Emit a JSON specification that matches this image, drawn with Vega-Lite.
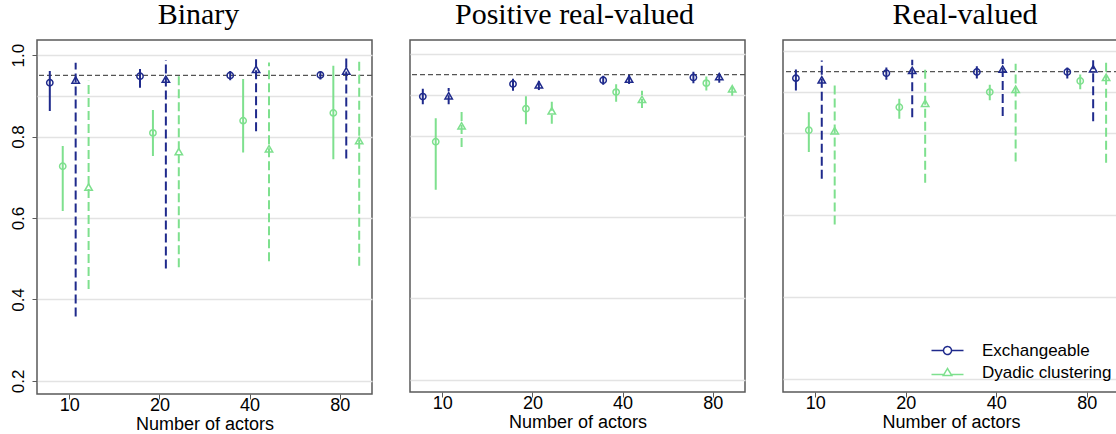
{
  "$schema": "https://vega.github.io/schema/vega-lite/v6.json",
  "padding": {"left": 8, "top": -1, "right": 0, "bottom": 0},
  "spacing": 38,
  "bounds": "flush",
  "config": {
    "view": {"stroke": "#5a5a5a", "strokeWidth": 1.5},
    "font": "Liberation Sans",
    "title": {"font": "Liberation Serif", "fontSize": 30, "fontWeight": "normal", "baseline": "alphabetic", "color": "black", "frame": "group", "offset": 10},
    "axis": {"labelFont": "Liberation Sans", "labelFontSize": 18, "labelColor": "black", "titleFont": "Liberation Sans", "titleFontSize": 18, "titleFontWeight": "normal", "titleColor": "black", "tickColor": "#5a5a5a", "tickSize": 5, "gridColor": "#e3e3e3", "gridWidth": 1.5, "domain": false}
  },
  "resolve": {"scale": {"color": "independent", "y": "independent"}, "legend": {"color": "independent"}},
  "datasets": {
    "cov": [
      {"panel": "Binary", "actors": "10", "model": "Exchangeable", "estimator": "A", "series": "Exchangeable A", "est": 0.932, "lo": 0.863, "hi": 0.961},
      {"panel": "Binary", "actors": "10", "model": "Dyadic clustering", "estimator": "A", "series": "Dyadic clustering A", "est": 0.727, "lo": 0.617, "hi": 0.777},
      {"panel": "Binary", "actors": "10", "model": "Exchangeable", "estimator": "B", "series": "Exchangeable B", "est": 0.939, "lo": 0.358, "hi": 0.981},
      {"panel": "Binary", "actors": "10", "model": "Dyadic clustering", "estimator": "B", "series": "Dyadic clustering B", "est": 0.676, "lo": 0.426, "hi": 0.937},
      {"panel": "Binary", "actors": "20", "model": "Exchangeable", "estimator": "A", "series": "Exchangeable A", "est": 0.948, "lo": 0.920, "hi": 0.966},
      {"panel": "Binary", "actors": "20", "model": "Dyadic clustering", "estimator": "A", "series": "Dyadic clustering A", "est": 0.809, "lo": 0.752, "hi": 0.865},
      {"panel": "Binary", "actors": "20", "model": "Exchangeable", "estimator": "B", "series": "Exchangeable B", "est": 0.941, "lo": 0.476, "hi": 0.988},
      {"panel": "Binary", "actors": "20", "model": "Dyadic clustering", "estimator": "B", "series": "Dyadic clustering B", "est": 0.763, "lo": 0.479, "hi": 0.953},
      {"panel": "Binary", "actors": "40", "model": "Exchangeable", "estimator": "A", "series": "Exchangeable A", "est": 0.950, "lo": 0.938, "hi": 0.961},
      {"panel": "Binary", "actors": "40", "model": "Dyadic clustering", "estimator": "A", "series": "Dyadic clustering A", "est": 0.839, "lo": 0.761, "hi": 0.941},
      {"panel": "Binary", "actors": "40", "model": "Exchangeable", "estimator": "B", "series": "Exchangeable B", "est": 0.965, "lo": 0.813, "hi": 0.990},
      {"panel": "Binary", "actors": "40", "model": "Dyadic clustering", "estimator": "B", "series": "Dyadic clustering B", "est": 0.770, "lo": 0.494, "hi": 0.982},
      {"panel": "Binary", "actors": "80", "model": "Exchangeable", "estimator": "A", "series": "Exchangeable A", "est": 0.951, "lo": 0.940, "hi": 0.959},
      {"panel": "Binary", "actors": "80", "model": "Dyadic clustering", "estimator": "A", "series": "Dyadic clustering A", "est": 0.858, "lo": 0.744, "hi": 0.974},
      {"panel": "Binary", "actors": "80", "model": "Exchangeable", "estimator": "B", "series": "Exchangeable B", "est": 0.961, "lo": 0.746, "hi": 0.993},
      {"panel": "Binary", "actors": "80", "model": "Dyadic clustering", "estimator": "B", "series": "Dyadic clustering B", "est": 0.790, "lo": 0.483, "hi": 0.990},

      {"panel": "Positive real-valued", "actors": "10", "model": "Exchangeable", "estimator": "A", "series": "Exchangeable A", "est": 0.896, "lo": 0.877, "hi": 0.915},
      {"panel": "Positive real-valued", "actors": "10", "model": "Dyadic clustering", "estimator": "A", "series": "Dyadic clustering A", "est": 0.785, "lo": 0.667, "hi": 0.843},
      {"panel": "Positive real-valued", "actors": "10", "model": "Exchangeable", "estimator": "B", "series": "Exchangeable B", "est": 0.898, "lo": 0.877, "hi": 0.917},
      {"panel": "Positive real-valued", "actors": "10", "model": "Dyadic clustering", "estimator": "B", "series": "Dyadic clustering B", "est": 0.824, "lo": 0.772, "hi": 0.868},
      {"panel": "Positive real-valued", "actors": "20", "model": "Exchangeable", "estimator": "A", "series": "Exchangeable A", "est": 0.927, "lo": 0.910, "hi": 0.940},
      {"panel": "Positive real-valued", "actors": "20", "model": "Dyadic clustering", "estimator": "A", "series": "Dyadic clustering A", "est": 0.866, "lo": 0.828, "hi": 0.897},
      {"panel": "Positive real-valued", "actors": "20", "model": "Exchangeable", "estimator": "B", "series": "Exchangeable B", "est": 0.925, "lo": 0.912, "hi": 0.939},
      {"panel": "Positive real-valued", "actors": "20", "model": "Dyadic clustering", "estimator": "B", "series": "Dyadic clustering B", "est": 0.861, "lo": 0.829, "hi": 0.888},
      {"panel": "Positive real-valued", "actors": "40", "model": "Exchangeable", "estimator": "A", "series": "Exchangeable A", "est": 0.936, "lo": 0.925, "hi": 0.947},
      {"panel": "Positive real-valued", "actors": "40", "model": "Dyadic clustering", "estimator": "A", "series": "Dyadic clustering A", "est": 0.907, "lo": 0.883, "hi": 0.926},
      {"panel": "Positive real-valued", "actors": "40", "model": "Exchangeable", "estimator": "B", "series": "Exchangeable B", "est": 0.939, "lo": 0.927, "hi": 0.952},
      {"panel": "Positive real-valued", "actors": "40", "model": "Dyadic clustering", "estimator": "B", "series": "Dyadic clustering B", "est": 0.889, "lo": 0.868, "hi": 0.910},
      {"panel": "Positive real-valued", "actors": "80", "model": "Exchangeable", "estimator": "A", "series": "Exchangeable A", "est": 0.943, "lo": 0.929, "hi": 0.957},
      {"panel": "Positive real-valued", "actors": "80", "model": "Dyadic clustering", "estimator": "A", "series": "Dyadic clustering A", "est": 0.929, "lo": 0.911, "hi": 0.945},
      {"panel": "Positive real-valued", "actors": "80", "model": "Exchangeable", "estimator": "B", "series": "Exchangeable B", "est": 0.945, "lo": 0.930, "hi": 0.958},
      {"panel": "Positive real-valued", "actors": "80", "model": "Dyadic clustering", "estimator": "B", "series": "Dyadic clustering B", "est": 0.915, "lo": 0.898, "hi": 0.926},

      {"panel": "Real-valued", "actors": "10", "model": "Exchangeable", "estimator": "A", "series": "Exchangeable A", "est": 0.934, "lo": 0.904, "hi": 0.955},
      {"panel": "Real-valued", "actors": "10", "model": "Dyadic clustering", "estimator": "A", "series": "Dyadic clustering A", "est": 0.807, "lo": 0.754, "hi": 0.851},
      {"panel": "Real-valued", "actors": "10", "model": "Exchangeable", "estimator": "B", "series": "Exchangeable B", "est": 0.930, "lo": 0.689, "hi": 0.977},
      {"panel": "Real-valued", "actors": "10", "model": "Dyadic clustering", "estimator": "B", "series": "Dyadic clustering B", "est": 0.806, "lo": 0.577, "hi": 0.919},
      {"panel": "Real-valued", "actors": "20", "model": "Exchangeable", "estimator": "A", "series": "Exchangeable A", "est": 0.946, "lo": 0.930, "hi": 0.960},
      {"panel": "Real-valued", "actors": "20", "model": "Dyadic clustering", "estimator": "A", "series": "Dyadic clustering A", "est": 0.863, "lo": 0.835, "hi": 0.884},
      {"panel": "Real-valued", "actors": "20", "model": "Exchangeable", "estimator": "B", "series": "Exchangeable B", "est": 0.953, "lo": 0.839, "hi": 0.979},
      {"panel": "Real-valued", "actors": "20", "model": "Dyadic clustering", "estimator": "B", "series": "Dyadic clustering B", "est": 0.873, "lo": 0.679, "hi": 0.955},
      {"panel": "Real-valued", "actors": "40", "model": "Exchangeable", "estimator": "A", "series": "Exchangeable A", "est": 0.949, "lo": 0.933, "hi": 0.963},
      {"panel": "Real-valued", "actors": "40", "model": "Dyadic clustering", "estimator": "A", "series": "Dyadic clustering A", "est": 0.900, "lo": 0.880, "hi": 0.918},
      {"panel": "Real-valued", "actors": "40", "model": "Exchangeable", "estimator": "B", "series": "Exchangeable B", "est": 0.956, "lo": 0.842, "hi": 0.981},
      {"panel": "Real-valued", "actors": "40", "model": "Dyadic clustering", "estimator": "B", "series": "Dyadic clustering B", "est": 0.907, "lo": 0.731, "hi": 0.969},
      {"panel": "Real-valued", "actors": "80", "model": "Exchangeable", "estimator": "A", "series": "Exchangeable A", "est": 0.949, "lo": 0.933, "hi": 0.960},
      {"panel": "Real-valued", "actors": "80", "model": "Dyadic clustering", "estimator": "A", "series": "Dyadic clustering A", "est": 0.927, "lo": 0.907, "hi": 0.943},
      {"panel": "Real-valued", "actors": "80", "model": "Exchangeable", "estimator": "B", "series": "Exchangeable B", "est": 0.957, "lo": 0.829, "hi": 0.985},
      {"panel": "Real-valued", "actors": "80", "model": "Dyadic clustering", "estimator": "B", "series": "Dyadic clustering B", "est": 0.936, "lo": 0.728, "hi": 0.977}
    ]
  },
  "hconcat": [
    {
      "width": 335, "height": 354,
      "title": {"text": "Binary", "dx": -6},
      "layer": [
        {
          "data": {"values": [{"level": 0.95}]},
          "mark": {"type": "rule", "color": "#555555", "strokeDash": [5, 3], "strokeWidth": 1.2},
          "encoding": {"y": {"field": "level", "type": "quantitative", "scale": {"domain": [0.168, 1.037], "nice": false, "zero": false},
            "axis": {"values": [0.2, 0.4, 0.6, 0.8, 0.9, 1.0], "labelExpr": "datum.value == 0.9 ? '' : format(datum.value, '.1f')", "tickOpacity": {"condition": {"test": "datum.value == 0.9", "value": 0}, "value": 1}, "title": null, "labelAngle": 270, "labelAlign": "center", "labelBaseline": "alphabetic", "labelPadding": 9, "labelFontSize": 17}}}
        },
        {
          "data": {"name": "cov"},
          "transform": [{"filter": "datum.panel == 'Binary'"}],
          "mark": {"type": "rule", "strokeWidth": 2},
          "encoding": {
            "x": {"field": "actors", "type": "ordinal", "sort": ["10", "20", "40", "80"], "scale": {"type": "point", "padding": 0.357}, "axis": {"labelAngle": 0, "labelPadding": -3, "title": "Number of actors", "titlePadding": 1}},
            "xOffset": {"field": "series", "type": "nominal", "scale": {"type": "point", "padding": 0, "domain": ["Exchangeable A", "Dyadic clustering A", "Exchangeable B", "Dyadic clustering B"], "range": [-19.4, 19.4]}},
            "y": {"field": "lo", "type": "quantitative"},
            "y2": {"field": "hi"},
            "color": {"field": "model", "type": "nominal", "scale": {"domain": ["Exchangeable", "Dyadic clustering"], "range": ["#1f2a8c", "#7ee08e"]}, "legend": null},
            "strokeDash": {"field": "estimator", "type": "nominal", "scale": {"domain": ["A", "B"], "range": [[1, 0], [9, 4]]}, "legend": null}
          }
        },
        {
          "data": {"name": "cov"},
          "transform": [{"filter": "datum.panel == 'Binary'"}],
          "mark": {"type": "point", "filled": false, "strokeWidth": 1.5, "opacity": 1},
          "encoding": {
            "x": {"field": "actors", "type": "ordinal", "sort": ["10", "20", "40", "80"], "scale": {"type": "point", "padding": 0.357}},
            "xOffset": {"field": "series", "type": "nominal", "scale": {"type": "point", "padding": 0, "domain": ["Exchangeable A", "Dyadic clustering A", "Exchangeable B", "Dyadic clustering B"], "range": [-19.4, 19.4]}},
            "y": {"field": "est", "type": "quantitative"},
            "color": {"field": "model", "type": "nominal", "legend": null},
            "shape": {"field": "estimator", "type": "nominal", "scale": {"domain": ["A", "B"], "range": ["circle", "triangle-up"]}, "legend": null},
            "size": {"field": "estimator", "type": "nominal", "scale": {"domain": ["A", "B"], "range": [40, 55]}, "legend": null}
          }
        }
      ]
    },
    {
      "width": 335, "height": 352,
      "title": {"text": "Positive real-valued", "dx": -3},
      "layer": [
        {
          "data": {"values": [{"level": 0.95}]},
          "mark": {"type": "rule", "color": "#555555", "strokeDash": [5, 3], "strokeWidth": 1.2},
          "encoding": {"y": {"field": "level", "type": "quantitative", "scale": {"domain": [0.170, 1.035], "nice": false, "zero": false},
            "axis": {"values": [0.2, 0.4, 0.6, 0.8, 0.9, 1.0], "labels": false, "ticks": false, "tickSize": 0, "labelPadding": 0, "title": null}}}
        },
        {
          "data": {"name": "cov"},
          "transform": [{"filter": "datum.panel == 'Positive real-valued'"}],
          "mark": {"type": "rule", "strokeWidth": 2},
          "encoding": {
            "x": {"field": "actors", "type": "ordinal", "sort": ["10", "20", "40", "80"], "scale": {"type": "point", "padding": 0.357}, "axis": {"labelAngle": 0, "labelPadding": -3, "title": "Number of actors", "titlePadding": 1}},
            "xOffset": {"field": "series", "type": "nominal", "scale": {"type": "point", "padding": 0, "domain": ["Exchangeable A", "Dyadic clustering A", "Exchangeable B", "Dyadic clustering B"], "range": [-19.4, 19.4]}},
            "y": {"field": "lo", "type": "quantitative"},
            "y2": {"field": "hi"},
            "color": {"field": "model", "type": "nominal", "scale": {"domain": ["Exchangeable", "Dyadic clustering"], "range": ["#1f2a8c", "#7ee08e"]}, "legend": null},
            "strokeDash": {"field": "estimator", "type": "nominal", "scale": {"domain": ["A", "B"], "range": [[1, 0], [9, 4]]}, "legend": null}
          }
        },
        {
          "data": {"name": "cov"},
          "transform": [{"filter": "datum.panel == 'Positive real-valued'"}],
          "mark": {"type": "point", "filled": false, "strokeWidth": 1.5, "opacity": 1},
          "encoding": {
            "x": {"field": "actors", "type": "ordinal", "sort": ["10", "20", "40", "80"], "scale": {"type": "point", "padding": 0.357}},
            "xOffset": {"field": "series", "type": "nominal", "scale": {"type": "point", "padding": 0, "domain": ["Exchangeable A", "Dyadic clustering A", "Exchangeable B", "Dyadic clustering B"], "range": [-19.4, 19.4]}},
            "y": {"field": "est", "type": "quantitative"},
            "color": {"field": "model", "type": "nominal", "legend": null},
            "shape": {"field": "estimator", "type": "nominal", "scale": {"domain": ["A", "B"], "range": ["circle", "triangle-up"]}, "legend": null},
            "size": {"field": "estimator", "type": "nominal", "scale": {"domain": ["A", "B"], "range": [40, 55]}, "legend": null}
          }
        }
      ]
    },
    {
      "width": 336, "height": 352,
      "title": {"text": "Real-valued", "dx": 14},
      "layer": [
        {
          "data": {"values": [{"level": 0.95}]},
          "mark": {"type": "rule", "color": "#555555", "strokeDash": [5, 3], "strokeWidth": 1.2},
          "encoding": {"y": {"field": "level", "type": "quantitative", "scale": {"domain": [0.169, 1.027], "nice": false, "zero": false},
            "axis": {"values": [0.2, 0.4, 0.6, 0.8, 0.9, 1.0], "labels": false, "ticks": false, "tickSize": 0, "labelPadding": 0, "title": null}}}
        },
        {
          "data": {"name": "cov"},
          "transform": [{"filter": "datum.panel == 'Real-valued'"}],
          "mark": {"type": "rule", "strokeWidth": 2},
          "encoding": {
            "x": {"field": "actors", "type": "ordinal", "sort": ["10", "20", "40", "80"], "scale": {"type": "point", "padding": 0.357}, "axis": {"labelAngle": 0, "labelPadding": -3, "title": "Number of actors", "titlePadding": 1}},
            "xOffset": {"field": "series", "type": "nominal", "scale": {"type": "point", "padding": 0, "domain": ["Exchangeable A", "Dyadic clustering A", "Exchangeable B", "Dyadic clustering B"], "range": [-19.4, 19.4]}},
            "y": {"field": "lo", "type": "quantitative"},
            "y2": {"field": "hi"},
            "color": {"field": "model", "type": "nominal", "scale": {"domain": ["Exchangeable", "Dyadic clustering"], "range": ["#1f2a8c", "#7ee08e"]},
              "legend": {"title": null, "orient": "none", "legendX": 156, "legendY": 302, "symbolSize": 100, "symbolStrokeWidth": 1.5, "symbolFillColor": "transparent", "labelFontSize": 17, "labelFont": "Liberation Sans", "labelColor": "black", "labelOffset": 26, "rowPadding": 4,
                "encode": {"symbols": {"update": {"shape": {"signal": "datum.value == 'Exchangeable' ? 'M-3.2,0H-0.8M0.8,0H3.2M-0.8,0A0.8,0.8 0 1,1 0.8,0A0.8,0.8 0 1,1 -0.8,0' : 'M-3.2,0.4H-0.73M0.73,0.4H3.2M-0.85,0.6L0,-0.8L0.85,0.6Z'"}, "fill": {"value": "transparent"}, "strokeWidth": {"value": 1.5}, "strokeDash": {"value": [1, 0]}}}}}},
            "strokeDash": {"field": "estimator", "type": "nominal", "scale": {"domain": ["A", "B"], "range": [[1, 0], [9, 4]]}, "legend": null}
          }
        },
        {
          "data": {"name": "cov"},
          "transform": [{"filter": "datum.panel == 'Real-valued'"}],
          "mark": {"type": "point", "filled": false, "strokeWidth": 1.5, "opacity": 1},
          "encoding": {
            "x": {"field": "actors", "type": "ordinal", "sort": ["10", "20", "40", "80"], "scale": {"type": "point", "padding": 0.357}},
            "xOffset": {"field": "series", "type": "nominal", "scale": {"type": "point", "padding": 0, "domain": ["Exchangeable A", "Dyadic clustering A", "Exchangeable B", "Dyadic clustering B"], "range": [-19.4, 19.4]}},
            "y": {"field": "est", "type": "quantitative"},
            "color": {"field": "model", "type": "nominal",
              "legend": {"title": null, "orient": "none", "legendX": 156, "legendY": 302, "symbolSize": 100, "symbolStrokeWidth": 1.5, "symbolFillColor": "transparent", "labelFontSize": 17, "labelFont": "Liberation Sans", "labelColor": "black", "labelOffset": 26, "rowPadding": 4,
                "encode": {"symbols": {"update": {"shape": {"signal": "datum.value == 'Exchangeable' ? 'M-3.2,0H-0.8M0.8,0H3.2M-0.8,0A0.8,0.8 0 1,1 0.8,0A0.8,0.8 0 1,1 -0.8,0' : 'M-3.2,0.4H-0.73M0.73,0.4H3.2M-0.85,0.6L0,-0.8L0.85,0.6Z'"}, "fill": {"value": "transparent"}, "strokeWidth": {"value": 1.5}, "strokeDash": {"value": [1, 0]}}}}}},
            "shape": {"field": "estimator", "type": "nominal", "scale": {"domain": ["A", "B"], "range": ["circle", "triangle-up"]}, "legend": null},
            "size": {"field": "estimator", "type": "nominal", "scale": {"domain": ["A", "B"], "range": [40, 55]}, "legend": null}
          }
        }
      ]
    }
  ]
}
